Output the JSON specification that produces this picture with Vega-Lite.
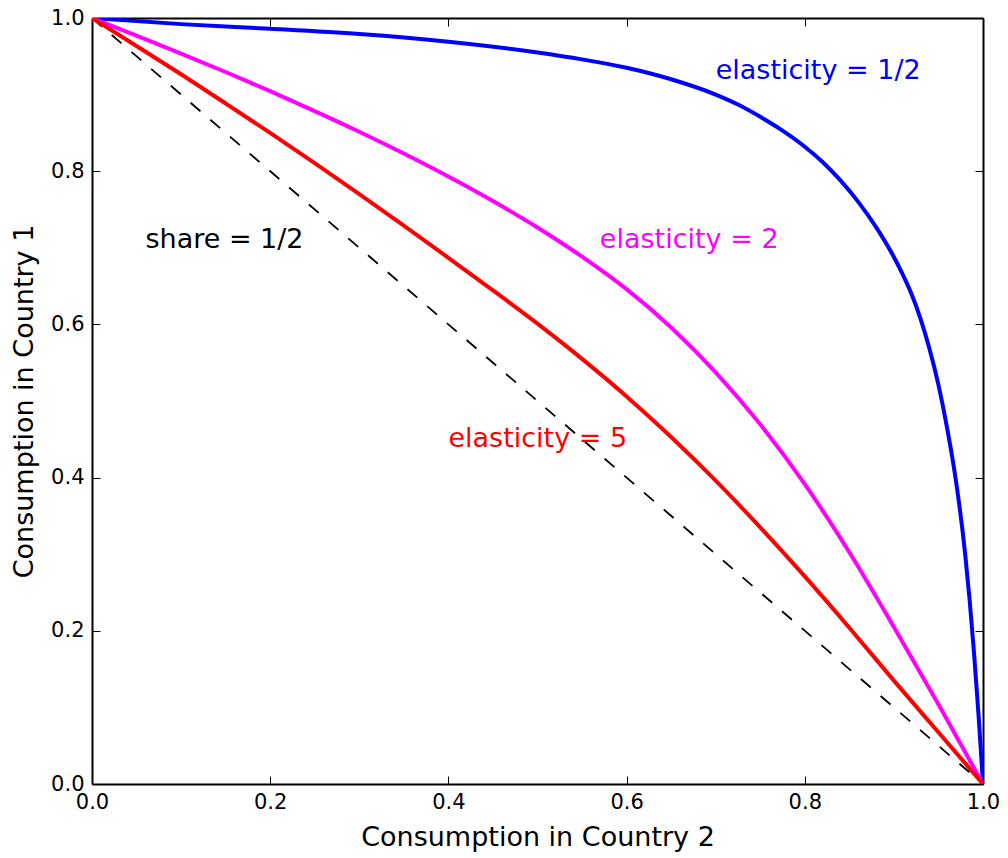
{
  "$schema": "https://vega.github.io/schema/vega-lite/v6.json",
  "width": 891,
  "height": 766,
  "autosize": {"type": "none"},
  "padding": {"left": 92, "top": 18, "right": 25, "bottom": 74},
  "background": "white",
  "config": {
    "view": {"stroke": null},
    "font": "DejaVu Sans",
    "axis": {
      "grid": false,
      "domainColor": "black",
      "domainWidth": 2,
      "tickColor": "black",
      "tickWidth": 1,
      "tickSize": -8,
      "labelColor": "black",
      "labelFont": "DejaVu Sans",
      "labelFontSize": 21,
      "labelFlush": false,
      "labelOverlap": false,
      "titleFont": "DejaVu Sans",
      "titleFontSize": 27,
      "titleFontWeight": "normal",
      "titleColor": "black"
    }
  },
  "datasets": {
    "curves": [
      {"series": "share = 1/2", "x": 0, "y": 1},
      {"series": "share = 1/2", "x": 1, "y": 0},

      {"series": "elasticity = 1/2", "x": 0, "y": 1},
      {"series": "elasticity = 1/2", "x": 0.1, "y": 0.992},
      {"series": "elasticity = 1/2", "x": 0.2, "y": 0.986},
      {"series": "elasticity = 1/2", "x": 0.3, "y": 0.979},
      {"series": "elasticity = 1/2", "x": 0.4, "y": 0.969},
      {"series": "elasticity = 1/2", "x": 0.5, "y": 0.955},
      {"series": "elasticity = 1/2", "x": 0.55, "y": 0.946},
      {"series": "elasticity = 1/2", "x": 0.6, "y": 0.935},
      {"series": "elasticity = 1/2", "x": 0.65, "y": 0.92},
      {"series": "elasticity = 1/2", "x": 0.7, "y": 0.9},
      {"series": "elasticity = 1/2", "x": 0.725, "y": 0.887},
      {"series": "elasticity = 1/2", "x": 0.75, "y": 0.871},
      {"series": "elasticity = 1/2", "x": 0.775, "y": 0.853},
      {"series": "elasticity = 1/2", "x": 0.8, "y": 0.832},
      {"series": "elasticity = 1/2", "x": 0.82, "y": 0.812},
      {"series": "elasticity = 1/2", "x": 0.84, "y": 0.788},
      {"series": "elasticity = 1/2", "x": 0.86, "y": 0.76},
      {"series": "elasticity = 1/2", "x": 0.88, "y": 0.727},
      {"series": "elasticity = 1/2", "x": 0.9, "y": 0.688},
      {"series": "elasticity = 1/2", "x": 0.91, "y": 0.665},
      {"series": "elasticity = 1/2", "x": 0.92, "y": 0.639},
      {"series": "elasticity = 1/2", "x": 0.93, "y": 0.607},
      {"series": "elasticity = 1/2", "x": 0.94, "y": 0.568},
      {"series": "elasticity = 1/2", "x": 0.95, "y": 0.521},
      {"series": "elasticity = 1/2", "x": 0.96, "y": 0.463},
      {"series": "elasticity = 1/2", "x": 0.97, "y": 0.393},
      {"series": "elasticity = 1/2", "x": 0.98, "y": 0.3},
      {"series": "elasticity = 1/2", "x": 0.985, "y": 0.24},
      {"series": "elasticity = 1/2", "x": 0.99, "y": 0.17},
      {"series": "elasticity = 1/2", "x": 0.995, "y": 0.09},
      {"series": "elasticity = 1/2", "x": 1, "y": 0},

      {"series": "elasticity = 2", "x": 0, "y": 1},
      {"series": "elasticity = 2", "x": 0.05, "y": 0.977},
      {"series": "elasticity = 2", "x": 0.1, "y": 0.9535},
      {"series": "elasticity = 2", "x": 0.15, "y": 0.9295},
      {"series": "elasticity = 2", "x": 0.2, "y": 0.9045},
      {"series": "elasticity = 2", "x": 0.25, "y": 0.8785},
      {"series": "elasticity = 2", "x": 0.3, "y": 0.8515},
      {"series": "elasticity = 2", "x": 0.35, "y": 0.823},
      {"series": "elasticity = 2", "x": 0.4, "y": 0.793},
      {"series": "elasticity = 2", "x": 0.45, "y": 0.761},
      {"series": "elasticity = 2", "x": 0.5, "y": 0.7265},
      {"series": "elasticity = 2", "x": 0.55, "y": 0.6885},
      {"series": "elasticity = 2", "x": 0.6, "y": 0.646},
      {"series": "elasticity = 2", "x": 0.65, "y": 0.596},
      {"series": "elasticity = 2", "x": 0.7, "y": 0.5375},
      {"series": "elasticity = 2", "x": 0.75, "y": 0.4695},
      {"series": "elasticity = 2", "x": 0.8, "y": 0.3915},
      {"series": "elasticity = 2", "x": 0.85, "y": 0.3025},
      {"series": "elasticity = 2", "x": 0.9, "y": 0.205},
      {"series": "elasticity = 2", "x": 0.95, "y": 0.104},
      {"series": "elasticity = 2", "x": 1, "y": 0},

      {"series": "elasticity = 5", "x": 0, "y": 1},
      {"series": "elasticity = 5", "x": 0.05, "y": 0.9635},
      {"series": "elasticity = 5", "x": 0.1, "y": 0.9265},
      {"series": "elasticity = 5", "x": 0.15, "y": 0.8885},
      {"series": "elasticity = 5", "x": 0.2, "y": 0.85},
      {"series": "elasticity = 5", "x": 0.25, "y": 0.8105},
      {"series": "elasticity = 5", "x": 0.3, "y": 0.77},
      {"series": "elasticity = 5", "x": 0.35, "y": 0.729},
      {"series": "elasticity = 5", "x": 0.4, "y": 0.687},
      {"series": "elasticity = 5", "x": 0.45, "y": 0.6445},
      {"series": "elasticity = 5", "x": 0.5, "y": 0.601},
      {"series": "elasticity = 5", "x": 0.55, "y": 0.555},
      {"series": "elasticity = 5", "x": 0.6, "y": 0.506},
      {"series": "elasticity = 5", "x": 0.65, "y": 0.453},
      {"series": "elasticity = 5", "x": 0.7, "y": 0.396},
      {"series": "elasticity = 5", "x": 0.75, "y": 0.335},
      {"series": "elasticity = 5", "x": 0.8, "y": 0.271},
      {"series": "elasticity = 5", "x": 0.85, "y": 0.204},
      {"series": "elasticity = 5", "x": 0.9, "y": 0.135},
      {"series": "elasticity = 5", "x": 0.95, "y": 0.0675},
      {"series": "elasticity = 5", "x": 1, "y": 0}
    ],
    "labels": [
      {"series": "elasticity = 1/2", "x": 0.7, "y": 0.92},
      {"series": "elasticity = 2", "x": 0.57, "y": 0.7},
      {"series": "share = 1/2", "x": 0.06, "y": 0.7},
      {"series": "elasticity = 5", "x": 0.4, "y": 0.44}
    ]
  },
  "resolve": {"axis": {"x": "independent", "y": "independent"}},
  "layer": [
    {
      "data": {"name": "curves"},
      "transform": [{"filter": "datum.series === 'share = 1/2'"}],
      "mark": {"type": "line", "strokeWidth": 1.8, "strokeDash": [13, 13], "clip": true},
      "encoding": {
        "x": {"field": "x", "type": "quantitative", "scale": {"domain": [0, 1], "nice": false},
          "axis": {"orient": "bottom", "values": [0, 0.2, 0.4, 0.6, 0.8, 1], "format": ".1f", "labelPadding": 15, "title": "Consumption in Country 2", "titlePadding": 12}},
        "y": {"field": "y", "type": "quantitative", "scale": {"domain": [0, 1], "nice": false},
          "axis": {"orient": "left", "values": [0, 0.2, 0.4, 0.6, 0.8, 1], "format": ".1f", "labelPadding": 16, "title": "Consumption in Country 1", "titlePadding": 12}},
        "color": {"field": "series", "type": "nominal", "legend": null,
          "scale": {"domain": ["elasticity = 1/2", "elasticity = 2", "elasticity = 5", "share = 1/2"], "range": ["#0000ff", "#ff00ff", "#ff0000", "#000000"]}}
      }
    },
    {
      "data": {"name": "curves"},
      "transform": [{"filter": "datum.series === 'elasticity = 1/2'"}],
      "mark": {"type": "line", "strokeWidth": 4, "interpolate": "monotone", "clip": true},
      "encoding": {
        "x": {"field": "x", "type": "quantitative", "axis": {"orient": "top", "values": [0, 0.2, 0.4, 0.6, 0.8, 1], "labels": false, "title": null}},
        "y": {"field": "y", "type": "quantitative", "axis": {"orient": "right", "values": [0, 0.2, 0.4, 0.6, 0.8, 1], "labels": false, "title": null}},
        "color": {"field": "series", "type": "nominal", "legend": null}
      }
    },
    {
      "data": {"name": "curves"},
      "transform": [{"filter": "datum.series === 'elasticity = 2'"}],
      "mark": {"type": "line", "strokeWidth": 4, "interpolate": "monotone", "clip": true},
      "encoding": {
        "x": {"field": "x", "type": "quantitative", "axis": null},
        "y": {"field": "y", "type": "quantitative", "axis": null},
        "color": {"field": "series", "type": "nominal", "legend": null}
      }
    },
    {
      "data": {"name": "curves"},
      "transform": [{"filter": "datum.series === 'elasticity = 5'"}],
      "mark": {"type": "line", "strokeWidth": 4, "interpolate": "monotone", "clip": true},
      "encoding": {
        "x": {"field": "x", "type": "quantitative", "axis": null},
        "y": {"field": "y", "type": "quantitative", "axis": null},
        "color": {"field": "series", "type": "nominal", "legend": null}
      }
    },
    {
      "data": {"name": "labels"},
      "mark": {"type": "text", "align": "left", "baseline": "alphabetic", "fontSize": 27, "font": "DejaVu Sans"},
      "encoding": {
        "x": {"field": "x", "type": "quantitative", "axis": null},
        "y": {"field": "y", "type": "quantitative", "axis": null},
        "text": {"field": "series"},
        "color": {"field": "series", "type": "nominal", "legend": null}
      }
    }
  ]
}
